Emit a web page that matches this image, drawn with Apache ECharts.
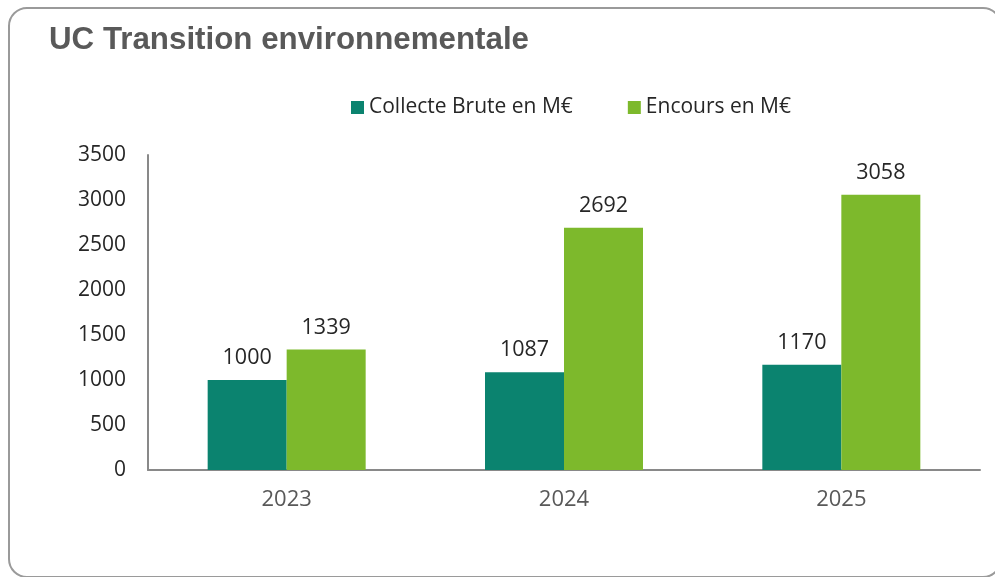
<!DOCTYPE html>
<html>
<head>
<meta charset="utf-8">
<script src="https://cdn.jsdelivr.net/npm/echarts@6/dist/echarts.min.js"></script>
<style>
  html, body { margin: 0; padding: 0; background: #fff; }
  #chart { width: 995px; height: 577px; }
</style>
</head>
<body>
<div id="chart"></div>
<script>
const years = ['2023', '2024', '2025'];
const collecteBrute = [1000, 1087, 1170];
const encours = [1339, 2692, 3058];
const yTicks = { min: 0, max: 3500, interval: 500 };

const font = '"Open Sans", sans-serif';
const chart = echarts.init(document.getElementById('chart'));

const valueLabel = {
  show: true,
  position: 'top',
  distance: 11,
  color: '#262626',
  fontSize: 21.5,
  fontFamily: font
};

chart.setOption({
  animation: false,
  backgroundColor: '#fff',
  title: {
    text: 'UC Transition environnementale',
    left: 44,
    top: 20,
    textStyle: {
      fontFamily: '"Liberation Sans", Arial, sans-serif',
      fontWeight: 'bold',
      fontSize: 31.3,
      color: '#595959'
    }
  },
  graphic: [{
    type: 'rect',
    silent: true,
    shape: { x: 9, y: 8, width: 992, height: 569, r: 18 },
    style: { fill: 'none', stroke: '#9a9a9a', lineWidth: 2 }
  }],
  legend: {
    top: 92,
    left: 346,
    itemWidth: 13,
    itemHeight: 13,
    itemGap: 55,
    icon: 'rect',
    textStyle: { fontFamily: font, fontSize: 21, color: '#262626' },
    data: ['Collecte Brute en M€', 'Encours en M€']
  },
  grid: { left: 148, right: 15, top: 155, bottom: 107 },
  xAxis: {
    type: 'category',
    data: years,
    axisLine: { lineStyle: { color: '#898989', width: 2 } },
    axisTick: { show: false },
    axisLabel: { color: '#595959', fontSize: 22, fontFamily: font, margin: 19 }
  },
  yAxis: {
    type: 'value',
    min: yTicks.min,
    max: yTicks.max,
    interval: yTicks.interval,
    axisLine: { show: true, lineStyle: { color: '#898989', width: 2 } },
    axisTick: { show: false },
    splitLine: { show: false },
    axisLabel: {
      color: '#262626',
      fontSize: 21,
      fontFamily: font,
      margin: 22,
      formatter: v => String(v)
    }
  },
  series: [
    {
      name: 'Collecte Brute en M€',
      type: 'bar',
      data: collecteBrute,
      barWidth: 79,
      barGap: '0%',
      itemStyle: { color: '#0B836F' },
      label: valueLabel
    },
    {
      name: 'Encours en M€',
      type: 'bar',
      data: encours,
      barWidth: 79,
      barGap: '0%',
      itemStyle: { color: '#7DB92C' },
      label: valueLabel
    }
  ]
});
</script>
</body>
</html>
